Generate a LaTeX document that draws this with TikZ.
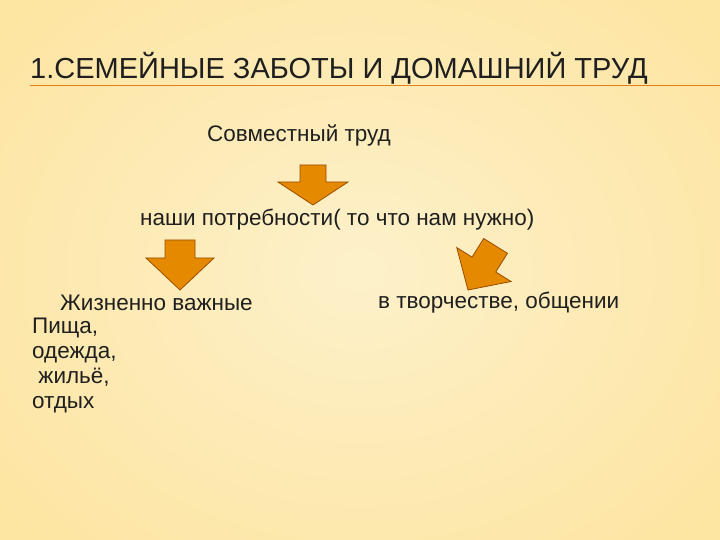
\documentclass[tikz,border=0pt]{standalone}
\usepackage{fontspec}
\setmainfont{Liberation Sans}
\begin{document}
\begin{tikzpicture}[x=1pt,y=1pt,
  txt/.style={anchor=west,inner sep=0pt,text=black!88,font=\fontsize{22.5}{26}\selectfont},
  arr/.style={fill=orange!80!yellow!90!black,draw=orange!60!black,line width=0.8pt,line join=miter}]
\useasboundingbox (0,0) rectangle (720,540);
\shade[inner color=yellow!8!white,outer color=yellow!50!orange!40!white] (-100,-100) rectangle (820,640);
\fill[yellow!40!orange!30!white,opacity=0.5] (0,0) rectangle (720,540);
\draw[orange!60!brown,line width=0.6pt] (30,455) -- (720,455);
\node[txt,font=\fontsize{29}{32}\selectfont,anchor=base west] (title) at (30,461) {1.СЕМЕЙНЫЕ ЗАБОТЫ И ДОМАШНИЙ ТРУД};
\node[txt] (a) at (207,405) {Совместный труд};
\node[txt] (b) at (140,320) {наши потребности( то что нам нужно)};
\node[txt] (c) at (60,237) {Жизненно важные};
\node[txt] (d) at (378,237) {в  творчестве, общении};
\node[txt,anchor=north west,align=left,font=\fontsize{22.5}{25}\selectfont] (e) at (32,222) {Пища,\\одежда,\\\ жильё,\\отдых};
% arrows
\begin{scope}[shift={(313,335)}]
\draw[arr] (0,0) -- (-35,23) -- (-13,23) -- (-13,40) -- (13,40) -- (13,23) -- (35,23) -- cycle;
\end{scope}
\begin{scope}[shift={(180,250)}]
\draw[arr] (0,0) -- (-34,32) -- (-15,32) -- (-15,50) -- (15,50) -- (15,32) -- (34,32) -- cycle;
\end{scope}
\begin{scope}[shift={(468,250)},rotate=-32]
\draw[arr] (0,0) -- (-32,30) -- (-14,30) -- (-14,52) -- (14,52) -- (14,30) -- (32,30) -- cycle;
\end{scope}
\end{tikzpicture}
\end{document}
